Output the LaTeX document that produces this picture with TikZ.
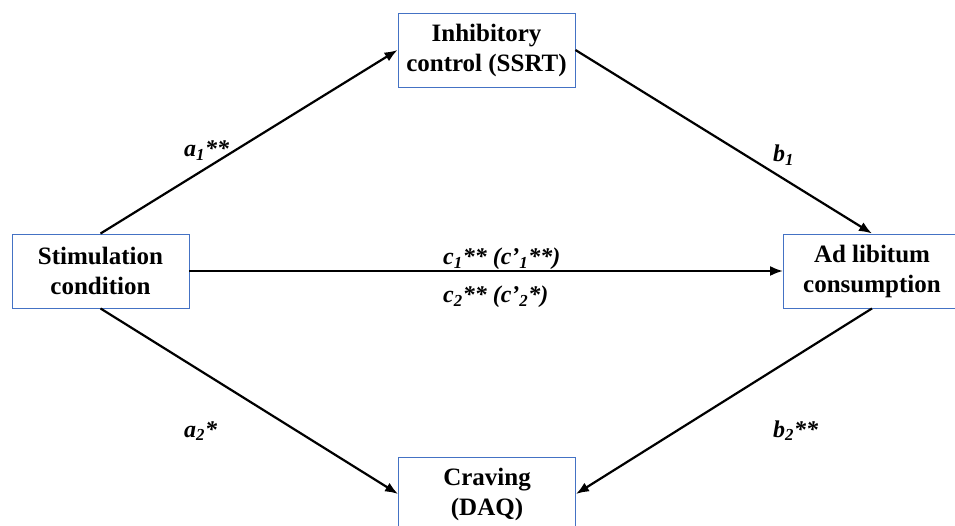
\documentclass[tikz,border=0pt]{standalone}
\usepackage{fontspec}
\setmainfont{Liberation Serif}
\usetikzlibrary{arrows.meta}

\definecolor{boxblue}{RGB}{68,114,196}

\tikzset{
    varbox/.style={draw=boxblue, line width=0.9pt, fill=white,
        minimum width=177pt, minimum height=74pt, align=center,
        font=\fontsize{25}{30}\selectfont\bfseries},
    pathlbl/.style={anchor=base west, inner sep=0pt,
        font=\fontsize{24}{28}\selectfont\bfseries\itshape},
    effect/.style={line width=2.2pt, -{Latex[length=13pt,width=10pt]}}
}
\newcommand{\sbs}[1]{\textsubscript{#1}}

\begin{document}
\begin{tikzpicture}[x=1pt,y=-1pt]

    \useasboundingbox (0,0) rectangle (955,526);
    \clip (0,0) rectangle (955,526);

    \node[varbox] (inhib) at (486.5,50) {Inhibitory\\control (SSRT)};
    \node[varbox] (stim) at (100.5,271) {Stimulation\\condition};
    \node[varbox] (adlib) at (872,271) {Ad libitum\\consumption};
    \node[varbox] (crave) at (487,494) {Craving\\(DAQ)};

    \draw[effect] (stim.north) -- (inhib.west);
    \draw[effect] (inhib.east) -- (adlib.north);
    \draw[effect] (stim.east) -- (adlib.west);
    \draw[effect] (stim.south) -- (crave.west);
    \draw[effect] (adlib.south) -- (crave.east);

    \node[pathlbl] (la1) at (184,157) {a\sbs{1}**};
    \node[pathlbl] (lb1) at (773,162) {b\sbs{1}};
    \node[pathlbl] (lc1) at (443,265) {c\sbs{1}** (c’\sbs{1}**)};
    \node[pathlbl] (lc2) at (443,303) {c\sbs{2}** (c’\sbs{2}*)};
    \node[pathlbl] (la2) at (184,437) {a\sbs{2}*};
    \node[pathlbl] (lb2) at (773,437) {b\sbs{2}**};

\end{tikzpicture}
\end{document}
